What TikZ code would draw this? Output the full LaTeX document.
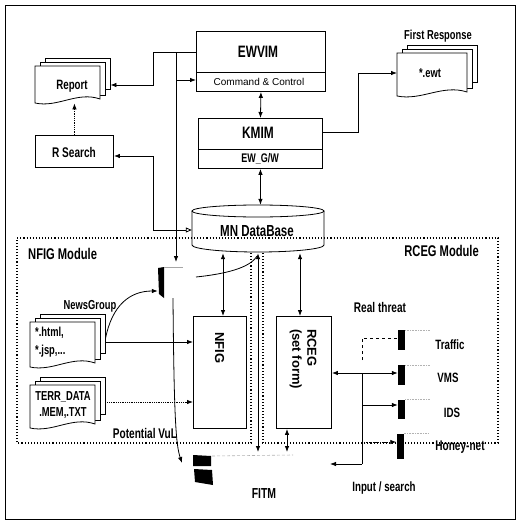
\documentclass[tikz,border=0pt]{standalone}
\usepackage{fontspec}
\setmainfont{Liberation Sans}
\newfontfamily\cf[FakeStretch=0.72]{Liberation Sans}
\usetikzlibrary{arrows.meta}
\newcommand\docstack[5]{%
 \draw[line width=0.8pt, fill=white] ({#2+10},{#3-8}) rectangle ({#2+#4+10},{#3+#5-14});
 \draw[line width=0.8pt, fill=white] ({#2+5},{#3-4}) rectangle ({#2+#4+5},{#3+#5-8});
 \draw[line width=0.8pt, fill=white] (#2,#3) -- ({#2+#4},#3) -- ({#2+#4},{#3+#5-4}) .. controls ({#2+0.65*#4},{#3+#5-12}) and ({#2+0.35*#4},{#3+#5+5}) .. (#2,{#3+#5}) -- cycle;
 \node[anchor=north west, minimum width={#4+10}, minimum height={#5+8}] (#1) at (#2,{#3-8}) {};
}
\tikzset{
 every node/.style={inner sep=0pt},
 box/.style={draw, line width=0.9pt, fill=white, anchor=north west},
 lb/.style={font={\cf\bfseries\fontsize{#1}{#1}\selectfont}},
 lr/.style={font={\fontsize{#1}{#1}\selectfont}},
 tipA/.tip={Latex[length=6pt,width=4.5pt]},
 arr/.style={-tipA, line width=0.8pt},
 darr/.style={tipA-tipA, line width=0.8pt},
 modline/.style={dotted, line width=1.1pt},
 blackbar/.style={fill=black, draw=none, minimum width=7pt},
 faint/.style={gray!60, densely dotted, line width=0.6pt},
}
\begin{document}
\begin{tikzpicture}[x=1pt,y=-1pt]
\useasboundingbox (0,0) rectangle (519,522);
\draw[line width=1pt] (5,5) rectangle (515,519);

% documents
\docstack{report}{35}{66}{65}{37}
\docstack{fresp}{397}{53}{70}{43}
\docstack{news}{30}{322}{65}{45}
\docstack{terr}{30}{385}{65}{43}

\node[lb=13.5] (reportt) at (72,86) {Report};
\node[lb=13] (frespl) at (438,36) {First Response};
\node[lb=13] (ewt) at (430,73) {*.ewt};
\node[anchor=west, align=left, font={\cf\bfseries\fontsize{13}{18}\selectfont}] (newst) at (35,342) {*.html,\\*.jsp,...};
\node[lb=13] (newsl) at (90,306) {NewsGroup};
\node[align=center, font={\cf\bfseries\fontsize{13}{16}\selectfont}] (terrt) at (63,405) {TERR\_DATA\\.MEM,.TXT};

% boxes
\node[box, minimum width=129pt, minimum height=60pt] (ewvim) at (196,31) {};
\draw[line width=0.9pt] (ewvim.west |- 0,72) -- (ewvim.east |- 0,72);
\node[lb=16.5] (ewvimt) at (258,52) {EWVIM};
\node[lr=10] (cc) at (259,82) {Command \& Control};

\node[box, minimum width=124pt, minimum height=50pt] (kmim) at (198,118) {};
\draw[line width=0.9pt] (kmim.west |- 0,149) -- (kmim.east |- 0,149);
\node[lb=16.5] (kmimt) at (258,133) {KMIM};
\node[lb=12.5] (ewgw) at (260,159) {EW\_G/W};

\node[box, minimum width=78pt, minimum height=32pt] (rsearch) at (35,135) {};
\node[lb=14] (rsearcht) at (74,152) {R Search};

% database
\draw[line width=0.8pt, fill=white] (192,211) -- (192,245) arc[start angle=180, end angle=0, x radius=66, y radius=7] -- (324,211);
\draw[line width=0.8pt, fill=white] (258,211) ellipse[x radius=66, y radius=6];
\node[minimum width=132pt, minimum height=48pt] (db) at (258,229) {};
\node[lb=16] (dbt) at (257,231) {MN DataBase};

% modules
\draw[modline] (251,253) -- (251,443) -- (17,443) -- (17,238) -- (498,238) -- (498,443) -- (263,443) -- (263,253);
\node[lb=15.5, anchor=west] (nfigmod) at (28,254) {NFIG Module};
\node[lb=15.5, anchor=east] (rcegmod) at (479,251) {RCEG Module};

\node[box, minimum width=53pt, minimum height=112pt] (nfig) at (193,316) {};
\node[rotate=-90, anchor=west, font={\bfseries\fontsize{13}{13}\selectfont}] (nfigt) at (219.5,332) {NFIG};
\node[box, minimum width=55pt, minimum height=112pt] (rceg) at (276,316) {};
\node[rotate=-90, anchor=west, align=left, font={\bfseries\fontsize{13}{15}\selectfont}] (rcegt) at (303,329) {RCEG\\(set form)};

% firewall bar near NFIG
\node[minimum width=6pt, minimum height=30pt] (fw) at (161,282) {};
\fill (158,268) -- (164,267) -- (164,298) -- (159,294) -- cycle;
\draw[gray!70, line width=0.6pt] (164,267) -- (183,267);

% FITM
\node[minimum width=20pt, minimum height=28pt] (fitm) at (203,469) {};
\fill (193,455) -- (211,456) -- (211,466) -- (193,466) -- cycle;
\fill (194,469) -- (212,470) -- (213,485) -- (195,482) -- cycle;
\draw[gray!60, densely dashed, line width=0.6pt] (212,456) -- (293,455);
\node[lb=14.5] (fitmt) at (264,494) {FITM};
\coordinate (vul) at (182,463);
\node[lb=14] (vull) at (145,433) {Potential VuL};

% right side bars
\node[blackbar, minimum height=20pt] (traffic) at (401.5,340) {};
\node[blackbar, minimum height=20pt] (vms) at (401.5,375) {};
\node[blackbar, minimum height=19pt] (ids) at (401.5,409) {};
\node[blackbar, minimum height=25pt] (honey) at (400,446) {};
\foreach \b in {traffic,vms,ids,honey} \draw[faint] (\b.north east) -- ++(25,0);
\node[lb=13.5] (trafficl) at (450,345) {Traffic};
\node[lb=13.5] (vmsl) at (448,378) {VMS};
\node[lb=13.5] (idsl) at (452,413) {IDS};
\node[lb=14] (honeyl) at (460,447) {Honey-net};
\node[lb=14] (realt) at (380,307) {Real threat};
\node[lb=13.5] (inputl) at (384,488) {Input / search};
\coordinate (inp) at (330,464);
\coordinate (jn) at (362,373);

% connectors
\draw[arr] (ewvim.west |- 0,52) -- (153,52) |- (report.east |- 0,85);
\draw[arr] (176,52) -- (176,262);
\draw[arr] (176,80) -- (ewvim.west |- 0,80);
\draw[arr, densely dotted] (rsearch.north) -- (rsearch.north |- report.south);
\draw[tipA-{Triangle[open,length=6pt,width=5pt]}, line width=0.8pt] (rsearch.east |- 0,156) -- (153,156) |- (db.west |- 0,230);
\draw[darr] (ewvim.south) -- (kmim.north);
\draw[darr] (kmim.south) -- (kmim.south |- db.north);
\draw[arr] (kmim.east |- 0,132) -- (358,132) |- (fresp.west |- 0,73);
\draw[darr] (223,0 |- db.south) -- (223,0 |- nfig.north);
\draw[darr] (300,0 |- db.south) -- (300,0 |- rceg.north);
\draw[darr] (258,0 |- db.south) -- (258,452);
\draw[line width=0.8pt] (196,277) .. controls (225,274) and (250,268) .. (257,256);
\draw[arr] (news.east |- 0,339) .. controls (112,305) and (130,291) .. (fw.west |- 0,291);
\draw[arr] (news.east |- 0,342) -- (nfig.west |- 0,342);
\draw[arr, densely dotted] (terr.east |- 0,402) -- (nfig.west |- 0,402);
\draw[arr] (173,298) .. controls (174,420) and (176,445) .. (vul);
\draw[darr] (287,0 |- rceg.south) -- (287,452);
\draw[arr] (jn) -- (rceg.east |- jn);
\draw[arr] (jn) -- (vms.west |- jn);
\draw[dashed, line width=0.8pt] (362,360) -- (362,338) -- (traffic.west |- 0,338);
\draw[line width=0.8pt] (jn) -- (362,464);
\draw[arr] (362,464) -- (inp);
\draw[arr] (362,405) -- (ids.west |- 0,405);
\draw[arr, densely dotted] (362,442) -- (honey.west |- 0,442);
\end{tikzpicture}
\end{document}
